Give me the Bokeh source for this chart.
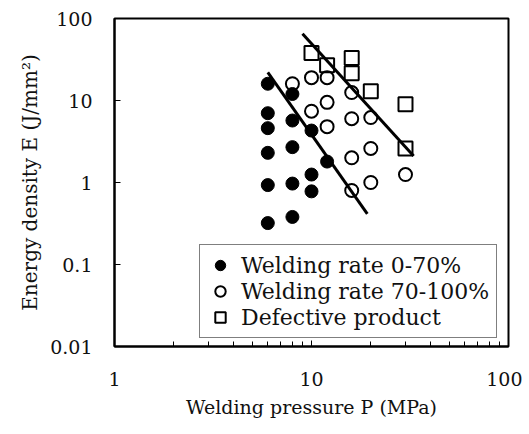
from bokeh.plotting import figure
from bokeh.models import FixedTicker, Legend
from bokeh.embed import file_html
from bokeh.resources import INLINE

# ---- data ----
low_p = [6, 8, 6, 6, 8, 10, 6, 8, 12, 6, 8, 10, 10, 6, 8]
low_e = [16, 12, 7, 4.6, 5.7, 4.3, 2.3, 2.7, 1.8, 0.93, 0.97, 1.25, 0.78, 0.32, 0.38]

high_p = [8, 10, 12, 12, 10, 12, 16, 16, 20, 16, 20, 20, 16, 30]
high_e = [16, 19, 19, 9.5, 7.4, 4.8, 12.5, 6.0, 6.2, 2.0, 2.6, 1.0, 0.8, 1.25]

def_p = [10, 12, 16, 16, 20, 30, 30]
def_e = [38, 27, 33, 21.5, 13, 9, 2.6]

line1_p = [6.0, 19.2]
line1_e = [22, 0.415]
line2_p = [9.0, 33]
line2_e = [65, 2.1]

x_ticks = [1, 10, 100]
x_tick_labels = ["1", "10", "100"]
x_minor = [2, 3, 4, 5, 6, 7, 8, 9, 20, 30, 40, 50, 60, 70, 80, 90]
y_ticks = [0.01, 0.1, 1, 10, 100]
y_tick_labels = ["0.01", "0.1", "1", "10", "100"]

labels = ["Welding rate 0-70%", "Welding rate 70-100%", "Defective product"]

FONT = "DejaVu Serif"

p = figure(x_axis_type="log", y_axis_type="log",
           x_range=(1, 100), y_range=(0.01, 100),
           frame_width=394, frame_height=328,
           min_border_left=114, min_border_top=18,
           min_border_right=14, min_border_bottom=80,
           output_backend="svg", toolbar_location=None)

p.xgrid.visible = False
p.ygrid.visible = False
p.outline_line_color = "black"
p.outline_line_width = 2
p.background_fill_color = "white"
p.border_fill_color = "white"

r1 = p.scatter(low_p, low_e, marker="circle", size=13,
               fill_color="black", line_color="black")
r2 = p.scatter(high_p, high_e, marker="circle", size=13,
               fill_color=None, line_color="black", line_width=2)
r3 = p.scatter(def_p, def_e, marker="square", size=14,
               fill_color=None, line_color="black", line_width=2)

p.line(line1_p, line1_e, line_color="black", line_width=3)
p.line(line2_p, line2_e, line_color="black", line_width=3)

# axes
xa = p.xaxis[0]
xa.ticker = FixedTicker(ticks=x_ticks, minor_ticks=x_minor)
xa.major_label_overrides = {t: l for t, l in zip(x_ticks, x_tick_labels)}
ya = p.yaxis[0]
ya.ticker = FixedTicker(ticks=y_ticks, minor_ticks=[])
ya.major_label_overrides = {t: l for t, l in zip(y_ticks, y_tick_labels)}

for ax in (xa, ya):
    ax.axis_line_color = "black"
    ax.axis_line_width = 2
    ax.major_tick_in = 6
    ax.major_tick_out = 0
    ax.minor_tick_in = 5
    ax.minor_tick_out = 0
    ax.major_tick_line_color = "black"
    ax.minor_tick_line_color = "black"
    ax.major_label_text_font = FONT
    ax.major_label_text_font_size = "19px"
    ax.major_label_text_color = "#111111"
    ax.axis_label_text_font = FONT
    ax.axis_label_text_font_style = "normal"
    ax.axis_label_text_color = "#111111"

xa.axis_label_text_font_size = "19px"
ya.axis_label_text_font_size = "20px"
xa.axis_label = "Welding pressure P (MPa)"
ya.axis_label = "Energy density E (J/mm\u00b2)"
xa.major_label_standoff = 25
ya.major_label_standoff = 22
xa.axis_label_standoff = 7
ya.axis_label_standoff = 5

legend = Legend(items=[(labels[0], [r1]), (labels[1], [r2]), (labels[2], [r3])],
                location=(85, 8))
legend.label_text_font = FONT
legend.label_text_font_size = "22px"
legend.label_text_color = "#111111"
legend.glyph_width = 26
legend.glyph_height = 26
legend.label_height = 26
legend.label_standoff = 8
legend.spacing = 0
legend.padding = 7
legend.margin = 0
legend.border_line_color = "black"
legend.border_line_width = 1
legend.background_fill_alpha = 1.0
p.add_layout(legend, "center")

open("out.html", "w").write(file_html(p, INLINE))
